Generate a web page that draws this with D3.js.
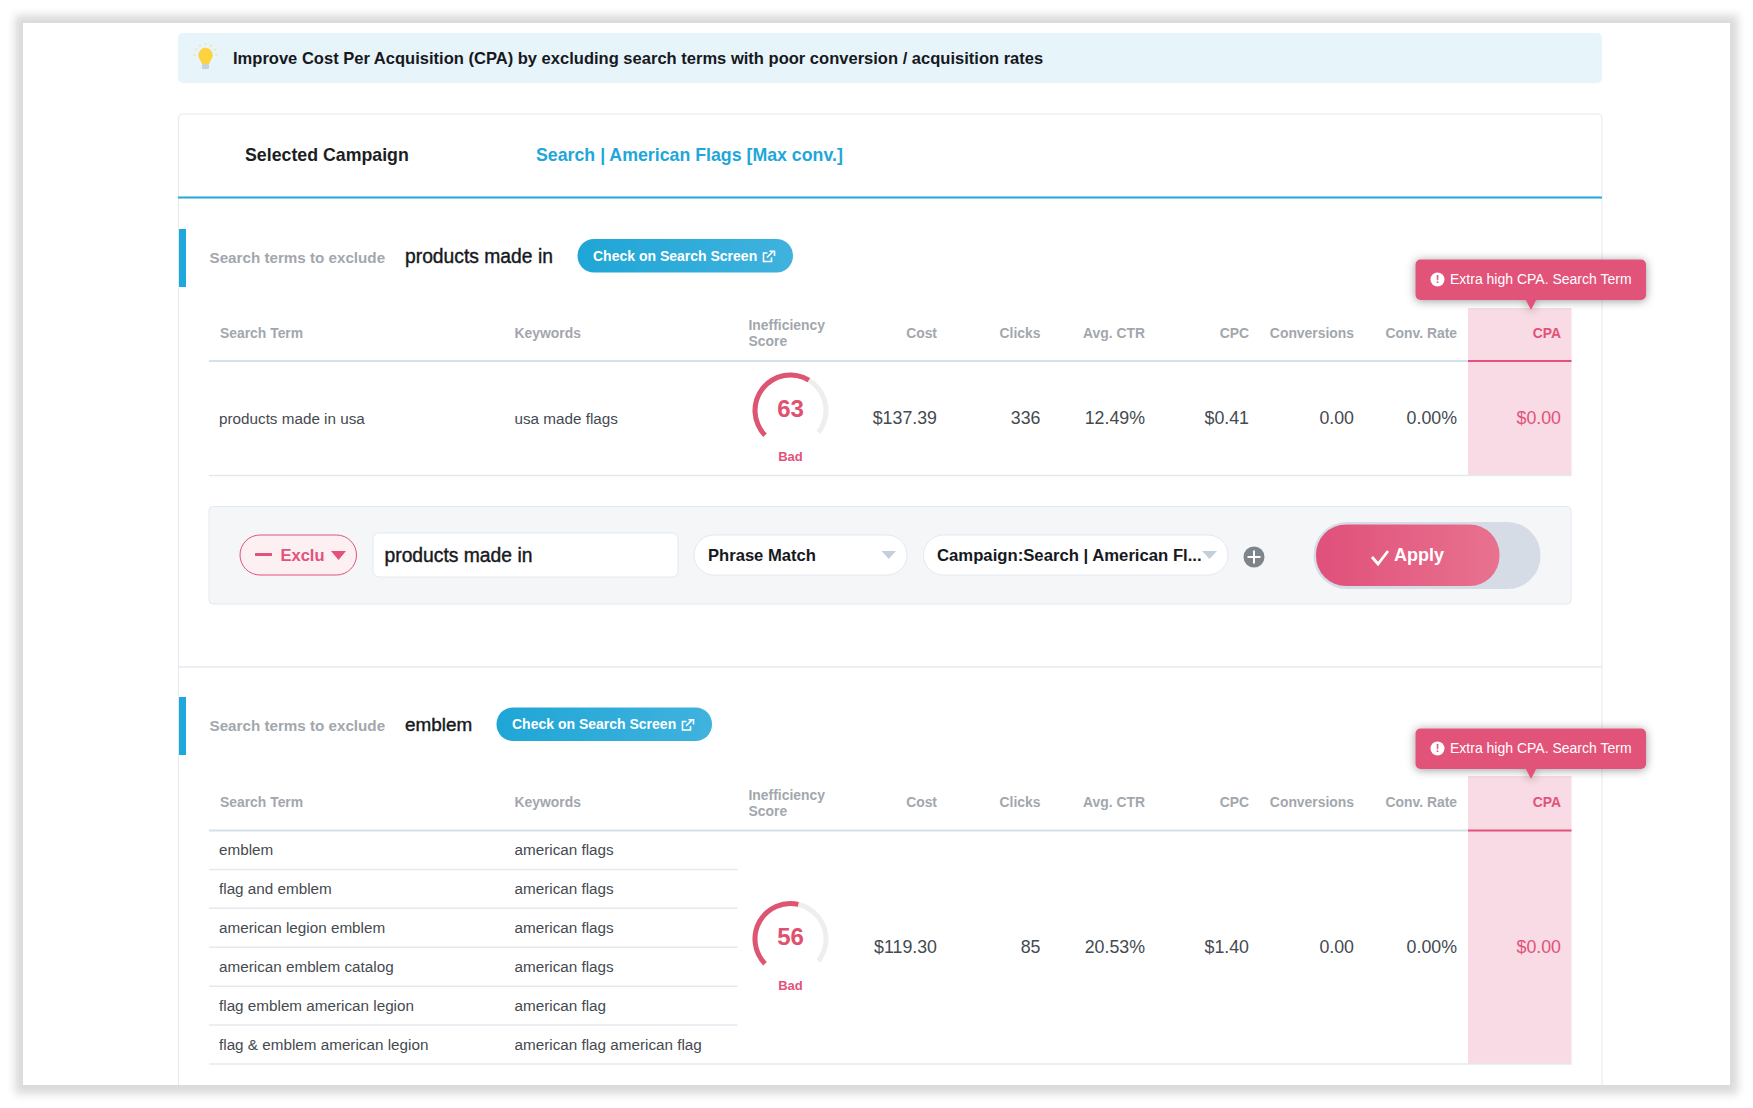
<!DOCTYPE html>
<html>
<head>
<meta charset="utf-8">
<script src="https://cdn.jsdelivr.net/npm/d3@7"></script>
<style>
  html, body { margin: 0; padding: 0; background: #fff; }
  svg { display: block; }
  text { font-family: "Liberation Sans", Arial, sans-serif; }
</style>
</head>
<body>
<div id="viz"></div>
<script>
//
// Search term exclusion screen, two campaign sections with a score gauge each.
//

const bannerText = "Improve Cost Per Acquisition (CPA) by excluding search terms with poor conversion / acquisition rates";
const campaignLabel = "Selected Campaign";
const campaignName = "Search | American Flags [Max conv.]";
const excludeLabel = "Search terms to exclude";
const checkLabel = "Check on Search Screen";
const alertLabel = "Extra high CPA. Search Term";
const scoreLabel = "Bad";

const metricColumns = ["Cost", "Clicks", "Avg. CTR", "CPC", "Conversions", "Conv. Rate", "CPA"];

const sectionTitles = ["products made in", "emblem"];
const sectionTerms = [
  ["products made in usa"],
  ["emblem", "flag and emblem", "american legion emblem", "american emblem catalog", "flag emblem american legion", "flag & emblem american legion"],
];
const sectionKeywords = [
  ["usa made flags"],
  ["american flags", "american flags", "american flags", "american flags", "american flag", "american flag american flag"],
];
const sectionScores = [63, 56];
const sectionMetrics = [
  ["$137.39", "336", "12.49%", "$0.41", "0.00", "0.00%", "$0.00"],
  ["$119.30", "85", "20.53%", "$1.40", "0.00", "0.00%", "$0.00"],
];

const actionType = "Exclu";
const actionTerm = "products made in";
const actionMatch = "Phrase Match";
const actionScope = "Campaign:Search | American Fl...";
const actionApply = "Apply";

const blue = "#1fa7d9", pink = "#e2527a", pinkSoft = "#f8dbe4", lineLight = "#e4e9ef", headGray = "#a2a7ad", bodyGray = "#444a50";

const svg = d3.select("#viz").append("svg").attr("width", 1753).attr("height", 1108);
const defs = svg.append("defs");

defs.append("filter").attr("id", "frameBlur").attr("x", "-5%").attr("y", "-5%").attr("width", "110%").attr("height", "110%")
  .append("feGaussianBlur").attr("stdDeviation", 4);
defs.append("filter").attr("id", "tipShadow").attr("x", "-15%").attr("y", "-50%").attr("width", "130%").attr("height", "220%")
  .append("feDropShadow").attr("dx", 0).attr("dy", 1).attr("stdDeviation", 5).attr("flood-color", "#000").attr("flood-opacity", 0.4);
defs.append("clipPath").attr("id", "frameClip").append("rect").attr("x", 23).attr("y", 23).attr("width", 1707).attr("height", 1062);

function addGradient(id, from, to) {
  const g = defs.append("linearGradient").attr("id", id).attr("x1", "0%").attr("x2", "100%").attr("y1", "0%").attr("y2", "0%");
  g.append("stop").attr("offset", "0%").attr("stop-color", from);
  g.append("stop").attr("offset", "100%").attr("stop-color", to);
}
addGradient("checkFill", "#1fa6d6", "#40b2de");
addGradient("applyFill", "#e0507a", "#e8728f");

function box(g, x0, y0, x1, y1, r, fill, stroke) {
  return g.append("rect").attr("x", x0).attr("y", y0).attr("width", x1 - x0).attr("height", y1 - y0)
    .attr("rx", r).attr("fill", fill).attr("stroke", stroke || "none");
}

function rule(g, x0, x1, y, color, w) {
  return g.append("line").attr("x1", x0).attr("x2", x1).attr("y1", y).attr("y2", y).attr("stroke", color).attr("stroke-width", w);
}

function label(g, x, y, str, size, color, weight, anchor) {
  return g.append("text").attr("x", x).attr("y", y).attr("dy", "0.35em").text(str)
    .attr("font-size", size).attr("fill", color).attr("font-weight", weight || "normal")
    .attr("text-anchor", anchor || "start");
}

function triangle(g, x0, x1, y0, y1, color) {
  g.append("path").attr("d", d3.line()([[x0, y0], [x1, y0], [(x0 + x1) / 2, y1]])).attr("fill", color);
}

// frame
box(svg, 15, 15, 1738, 1094, 0, "#dadada").attr("filter", "url(#frameBlur)");
box(svg, 23, 23, 1730, 1085, 0, "#fff");

// banner
box(svg, 178, 33, 1602, 83, 5, "#e7f4fa");
const bulb = svg.append("g").attr("transform", "translate(205.5,55)");
d3.range(7).forEach(i => {
  const a = (-180 + i * 30) * Math.PI / 180;
  bulb.append("line").attr("x1", 10 * Math.cos(a)).attr("y1", 10 * Math.sin(a)).attr("x2", 12 * Math.cos(a)).attr("y2", 12 * Math.sin(a))
    .attr("stroke", "#f7e09a").attr("stroke-width", 1.4);
});
bulb.append("circle").attr("r", 7.2).attr("fill", "#fdd23e");
bulb.append("path").attr("d", "M-6,3.5 L6,3.5 L3.5,9 L-3.5,9 Z").attr("fill", "#fdd23e");
box(bulb, -3.5, 9, 3.5, 14, 1, "#c9d0d6");
label(svg, 233, 58, bannerText, 16.55, "#16191d", "bold");

// card, cut off by the bottom of the frame
const cardLayer = svg.append("g").attr("clip-path", "url(#frameClip)");
box(cardLayer, 178.5, 114, 1602, 1200, 4, "#fff", lineLight);
label(svg, 245, 154.5, campaignLabel, 17.75, "#1b1e22", "bold");
label(svg, 536, 154.5, campaignName, 17.75, blue, "bold");
rule(svg, 178, 1602, 197.5, "#22a7d8", 2);
rule(svg, 178, 1602, 667, lineLight, 1.5);

// shared scales: score to gauge angle, and the columns of the table
const gaugeAngle = d3.scaleLinear().domain([0, 100]).range([-134, 128].map(d => d * Math.PI / 180));
const metricRight = d3.scaleOrdinal().domain(metricColumns).range([937, 1040.5, 1145, 1249, 1354, 1457, 1561]);
const gaugeArc = d3.arc().innerRadius(33).outerRadius(38);

// top edges of the two sections
const sectionY = [229, 697];
const sectionBottom = [475.5, 1064];
const sectionHead = [361, 830.5];

sectionTitles.forEach((title, s) => {
  const top = sectionY[s];
  const g = svg.append("g").attr("class", "section");
  box(g, 179, top, 186, top + 58, 0, "#1ea8dd");
  label(g, 209.5, top + 28.5, excludeLabel, 15.2, headGray, "bold");
  label(g, 405, top + 27, title, s == 0 ? 19.3 : 18.9, "#16191d").attr("stroke", "#16191d").attr("stroke-width", 0.4);

  // check button sits right after the title
  const btnX = s == 0 ? 577.5 : 496.5;
  const btnY = top + 10 + (s == 0 ? 0 : 0.5);
  box(g, btnX, btnY, btnX + 215.5, btnY + 33.5, 16.5, "url(#checkFill)");
  label(g, btnX + 15.5, btnY + 17, checkLabel, 14, "#fff", "bold");
  const icon = g.append("g").attr("transform", `translate(${btnX + 185},${btnY + 11.5})`)
    .attr("fill", "none").attr("stroke", "#fff").attr("stroke-width", 1.6);
  icon.append("path").attr("d", "M5,2.5 H1 V11 H9 V7");
  icon.append("path").attr("d", "M4.5,7 L10,1.5 M7,0.75 H12 V5.5");

  // pink column behind the CPA values
  box(g, 1468, top + 79, 1571.5, sectionBottom[s], 0, pinkSoft);

  // header
  const headY = sectionHead[s] - 28;
  label(g, 220, headY, "Search Term", 13.9, headGray, "bold");
  label(g, 514.5, headY, "Keywords", 13.9, headGray, "bold");
  label(g, 748.5, headY - 7.5, "Inefficiency", 13.9, headGray, "bold");
  label(g, 748.5, headY + 8.5, "Score", 13.9, headGray, "bold");
  metricColumns.forEach(c => {
    label(g, metricRight(c), headY, c, 13.9, c == "CPA" ? pink : headGray, "bold", "end");
  });
  rule(g, 209, 1468, sectionHead[s], "#d6e0ea", 2);
  rule(g, 1468, 1571.5, sectionHead[s], pink, 2);

  // term rows
  const rowY = d3.scaleBand().domain(d3.range(sectionTerms[s].length)).range([sectionHead[s], sectionBottom[s]]);
  sectionTerms[s].forEach((term, i) => {
    const cy = rowY(i) + rowY.bandwidth() / 2;
    label(g, 219, cy, term, 15.25, bodyGray);
    label(g, 514.5, cy, sectionKeywords[s][i], 15.25, bodyGray);
    if (i > 0) rule(g, 209, 737.5, rowY(i), lineLight, 1.5);
  });
  rule(g, 209, 1571.5, sectionBottom[s], lineLight, 1.5);

  // metric values
  const valueY = (sectionHead[s] + sectionBottom[s]) / 2 - 0.25;
  metricColumns.forEach((c, i) => {
    label(g, metricRight(c), valueY, sectionMetrics[s][i], 17.8, c == "CPA" ? pink : bodyGray, "normal", "end");
  });

  // score gauge
  const gy = s == 0 ? 410.5 : 939;
  const gauge = g.append("g").attr("transform", `translate(790.5,${gy})`);
  gauge.append("path").attr("fill", "#eeeeee")
    .attr("d", gaugeArc({ startAngle: gaugeAngle(0), endAngle: gaugeAngle(100) }));
  gauge.append("path").attr("fill", "#dd5570")
    .attr("d", gaugeArc({ startAngle: gaugeAngle(0), endAngle: gaugeAngle(sectionScores[s]) }));
  label(gauge, 0, -2, sectionScores[s], 24, "#e0506f", "bold", "middle");
  label(gauge, 0, s == 0 ? 45.5 : 46.5, scoreLabel, 13, pink, "bold", "middle");

  // alert tag above the CPA column
  const tipTop = top + 30.5 + (s == 0 ? 0 : 1);
  const tip = g.append("g").attr("filter", "url(#tipShadow)");
  box(tip, 1415.5, tipTop, 1646, tipTop + 40.5, 5, "#e2527a");
  triangle(tip, 1525.5, 1536.5, tipTop + 40, tipTop + 50.5, "#e2527a");
  const cyTip = tipTop + 20;
  g.append("circle").attr("cx", 1437.5).attr("cy", cyTip).attr("r", 7).attr("fill", "#fff");
  label(g, 1437.5, cyTip, "!", 11, "#e2527a", "bold", "middle");
  label(g, 1450, cyTip - 0.5, alertLabel, 14, "#fff");
});

// action strip under the first table
const strip = svg.append("g").attr("class", "strip");
box(strip, 209, 506.5, 1571, 604, 4, "#f4f6f8", lineLight);

box(strip, 240, 535, 356.5, 575, 20, "#fdf0f3", pink);
box(strip, 255, 553, 272, 556, 0.5, pink);
label(strip, 280.5, 555.5, actionType, 16.5, pink, "bold");
triangle(strip, 331, 346, 551, 560, pink);

box(strip, 373, 533, 678, 577, 6, "#fff", lineLight);
label(strip, 384.5, 555, actionTerm, 19.3, "#16191d").attr("stroke", "#16191d").attr("stroke-width", 0.4);

box(strip, 694, 535, 907, 575, 20, "#fff", lineLight);
label(strip, 708, 555.5, actionMatch, 16.6, "#16191d", "bold");
triangle(strip, 881.5, 896, 551, 559, "#c5cfdc");

box(strip, 923.5, 535, 1228, 575, 20, "#fff", lineLight);
label(strip, 937, 555.5, actionScope, 16.7, "#16191d", "bold");
triangle(strip, 1202, 1217, 551, 559, "#c5cfdc");

strip.append("circle").attr("cx", 1254).attr("cy", 557).attr("r", 10.5).attr("fill", "#7d858c");
box(strip, 1247.5, 556, 1260.5, 558, 0, "#fff");
box(strip, 1253, 550.5, 1255, 563.5, 0, "#fff");

box(strip, 1313.5, 522, 1540.5, 589, 33, "#d5dce5");
box(strip, 1316, 524.5, 1499.5, 586, 30, "url(#applyFill)");
strip.append("path").attr("d", "M1372,557 L1378,564 L1388,551").attr("fill", "none").attr("stroke", "#fff").attr("stroke-width", 2.8);
label(strip, 1394, 555, actionApply, 18, "#fff", "bold");
</script>
</body>
</html>
